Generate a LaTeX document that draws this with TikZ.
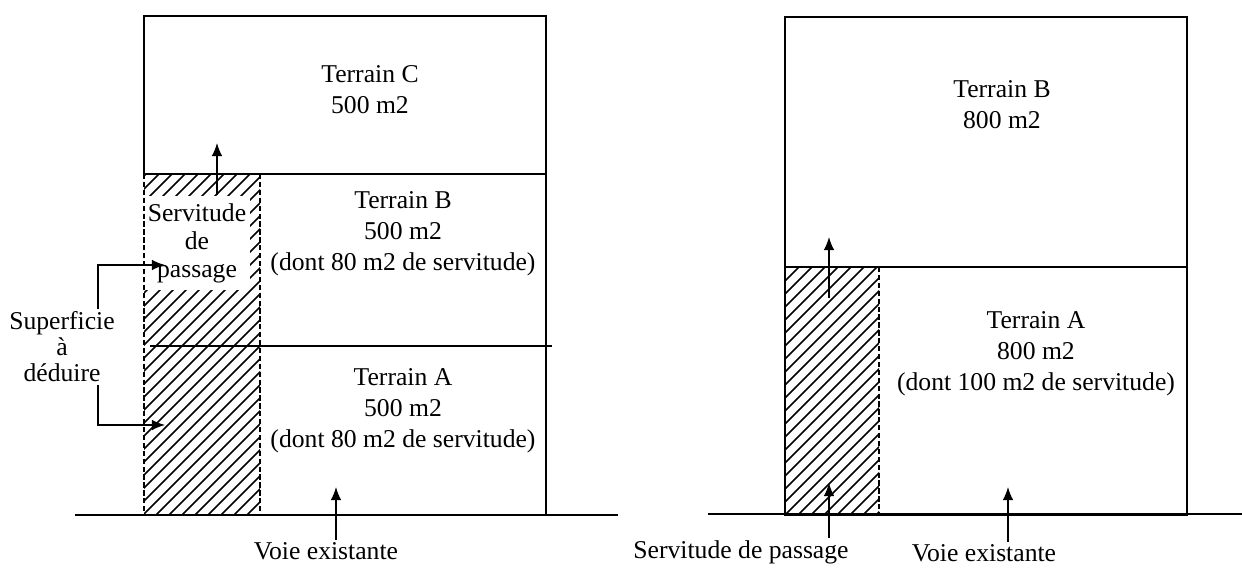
\documentclass[tikz,border=0pt]{standalone}
\usepackage{fontspec}
\setmainfont{Liberation Serif}
\usetikzlibrary{arrows.meta}
\tikzset{
  hatch/.style={line width=.85pt},
  edge/.style={dashed, dash pattern=on 3pt off 1.5pt, line width=.8pt},
  lab/.style={align=center, inner sep=1pt},
  pointer/.style={->, line width=.8pt}
}
\begin{document}
\begin{tikzpicture}[>={Latex[length=7.4pt,width=6pt]}, x=0.02cm, y=-0.02cm,
  font=\fontsize{14.6}{17.6}\selectfont, line width=.9pt]
\useasboundingbox (0,0) rectangle (1242,578);

% left plot
\foreach \x in {-260,-247,...,260}
{
    \begin{scope}
    \clip (144,174) rectangle (260,515);
    \draw[hatch](\x,515)--++(400,-400);
    \end{scope}
}
\node[lab, fill=white, font=\fontsize{14.6}{16}\selectfont, minimum width=2.12cm, minimum height=1.9cm] (servL) at (197,243) {Servitude\\de\\passage};
\draw[edge](144,174)--(144,515) (260,174)--(260,515);
\draw(144,16) rectangle (546,174);
\draw(546,174)--(546,515);
\draw(150,346)--(552,346);
\draw(75,515)--(618,515);

\node[lab] (terC) at (370,90) {Terrain C\\500 m2};
\node[lab] (terBl) at (403,234) {Terrain B\\500 m2\\(dont 80 m2 de servitude)};
\node[lab] (terAl) at (403,411) {Terrain A\\500 m2\\(dont 80 m2 de servitude)};

\coordinate (servLtip) at (217,143);
\draw[pointer](servL.north -| servLtip)--(servLtip);

\node[lab, font=\fontsize{14.6}{14.8}\selectfont] (superf) at (62,347) {Superficie\\à\\déduire};
\coordinate (bendU) at (98,265);
\coordinate (tipU) at (165,265);
\coordinate (bendD) at (98,425);
\coordinate (tipD) at (165,425);
\draw[pointer](superf.north -| bendU)--(bendU)--(tipU);
\draw[pointer](superf.south -| bendD)--(bendD)--(tipD);

\node[lab] (voieL) at (326,551) {Voie existante};
\coordinate (voieLtip) at (336,487);
\draw[pointer](voieL.north -| voieLtip)--(voieLtip);

% right plot
\foreach \x in {-260,-247,...,880}
{
    \begin{scope}
    \clip (785,267) rectangle (879,515);
    \draw[hatch](\x+525,515)--++(400,-400);
    \end{scope}
}
\draw[edge](879,267)--(879,515);
\draw(785,17) rectangle (1187,515);
\draw(785,267)--(1187,267);
\draw(708,514)--(1242,514);

\node[lab] (terBr) at (1002,105) {Terrain B\\800 m2};
\node[lab] (terAr) at (1036,354) {Terrain A\\800 m2\\(dont 100 m2 de servitude)};

\coordinate (servRfoot) at (829,298);
\coordinate (servRtip) at (829,237);
\draw[pointer](servRfoot)--(servRtip);

\node[lab] (servR) at (741,552) {Servitude de passage};
\coordinate (servRtipb) at (829,483);
\draw[pointer](servR.north -| servRtipb)--(servRtipb);

\node[lab] (voieR) at (984,553) {Voie existante};
\coordinate (voieRtip) at (1008,487);
\draw[pointer](voieR.north -| voieRtip)--(voieRtip);
\end{tikzpicture}
\end{document}
